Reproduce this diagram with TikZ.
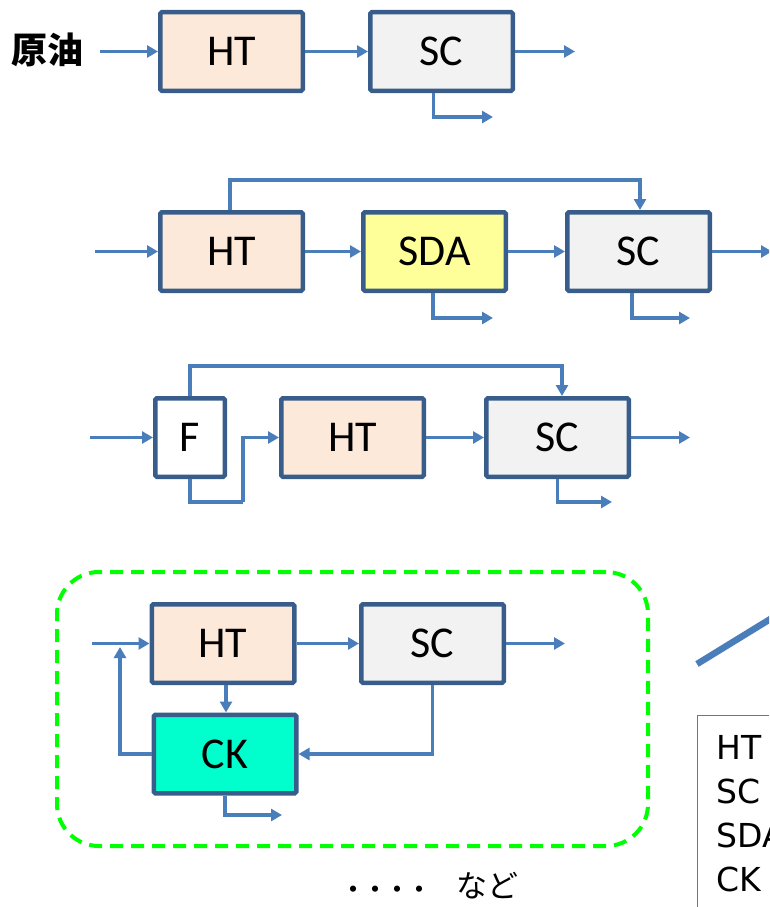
\documentclass[tikz,border=0pt]{standalone}
\usepackage{fontspec}
\setmainfont{Carlito}
\newfontfamily\jpfont{Noto Sans CJK JP}
\newfontfamily\legfont{DejaVu Sans}
\usetikzlibrary{arrows.meta,positioning}
\usepackage{xcolor}
\definecolor{boxline}{HTML}{385D8A}
\definecolor{flowblue}{HTML}{4A7EBB}
\definecolor{htfill}{HTML}{FDE9D9}
\definecolor{scfill}{HTML}{F2F2F2}
\definecolor{sdafill}{HTML}{FFFF99}
\definecolor{ckfill}{HTML}{00FFCC}
\definecolor{grpgreen}{HTML}{00FF00}

\tikzset{
  unit/.style={draw=boxline,line width=4.5pt,rounded corners=1.5pt,
    minimum width=142.5pt,minimum height=78.5pt,inner sep=0pt,
    font=\fontsize{44}{44}\selectfont},
  flow/.style={draw=flowblue,line width=3.2pt,-{Triangle[length=11pt,width=12pt]}},
  pipe/.style={draw=flowblue,line width=3.2pt},
}

\begin{document}
\begin{tikzpicture}[x=1pt,y=-1pt]
				\clip (0,0) rectangle (769,907);
				
				% Case 1
				\node[font=\jpfont\bfseries\fontsize{36}{36}\selectfont] (crude) at (47,50) {原油};
				\node[unit,fill=htfill] (ht1) at (231.5,51.5) {HT};
				\node[unit,fill=scfill] (sc1) at (441.5,51.5) {SC};
				\coordinate (in1) at (100,51.5);
				\coordinate (out1) at (575,51.5);
				\coordinate (bot1) at (493,117);
				\draw[flow] (in1) -- (ht1);
				\draw[flow] (ht1) -- (sc1);
				\draw[flow] (sc1) -- (out1);
				\draw[flow] ([xshift=-8pt]sc1.south) |- (bot1);
				
				% Case 2
				\node[unit,fill=htfill] (ht2) at (231.5,251.5) {HT};
				\node[unit,fill=sdafill] (sda2) at (434.5,251.5) {SDA};
				\node[unit,fill=scfill] (sc2) at (638.5,251.5) {SC};
				\coordinate (in2) at (95,251.5);
				\coordinate (out2) at (772,251.5);
				\coordinate (bot2a) at (493,318);
				\coordinate (bot2b) at (690,318);
				\draw[flow] (in2) -- (ht2);
				\draw[flow] (ht2) -- (sda2);
				\draw[flow] (sda2) -- (sc2);
				\draw[flow] (sc2) -- (out2);
				\draw[flow] ([xshift=-1.5pt]ht2.north) -- ++(0,-30) -| ([xshift=1.5pt]sc2.north);
				\draw[flow] ([xshift=-1.5pt]sda2.south) |- (bot2a);
				\draw[flow] ([xshift=-6.5pt]sc2.south) |- (bot2b);
				
				% Case 3
				\node[unit,fill=white,minimum width=69.5pt] (f3) at (190,437.5) {F};
				\node[unit,fill=htfill] (ht3) at (352.5,437.5) {HT};
				\node[unit,fill=scfill] (sc3) at (557.5,437.5) {SC};
				\coordinate (in3) at (90,437.5);
				\coordinate (out3) at (690,437.5);
				\coordinate (turn3) at (243,502);
				\coordinate (bot3) at (612,502);
				\draw[flow] (in3) -- (f3);
				\draw[pipe] (f3.south) |- (turn3);
				\draw[flow] (turn3) |- (ht3.west);
				\draw[flow] (ht3) -- (sc3);
				\draw[flow] (sc3) -- (out3);
				\draw[flow] (f3.north) -- ++(0,-30) -| ([xshift=4.5pt]sc3.north);
				\draw[flow] (sc3.south) |- (bot3);
				
				% Case 4
				\node[draw=grpgreen,line width=4pt,dash pattern=on 13pt off 8pt,rounded corners=42pt,
				  minimum width=591pt,minimum height=274pt] (grp) at (352.5,709) {};
				\node[unit,fill=htfill] (ht4) at (223,643.5) {HT};
				\node[unit,fill=scfill] (sc4) at (432.5,643.5) {SC};
				\node[unit,fill=ckfill] (ck4) at (225,754) {CK};
				\coordinate (in4) at (92,643.5);
				\coordinate (out4) at (565,643.5);
				\coordinate (ret4) at (120,647);
				\coordinate (bot4) at (282,815);
				\draw[flow] (in4) -- (ht4);
				\draw[flow] (ht4) -- (sc4);
				\draw[flow] (sc4) -- (out4);
				\draw[flow] ([xshift=3pt]ht4.south) -- ([xshift=1pt]ck4.north);
				\draw[flow] (sc4.south) |- (ck4.east);
				\draw[flow] (ck4.west) -| (ret4);
				\draw[flow] (ck4.south) |- (bot4);
				
				% etc.
				\node[anchor=west,inner sep=0pt,font=\jpfont] (etc) at (342,886)
				  {{\bfseries\fontsize{22}{22}\selectfont ・・・・}\hspace{26pt}{\fontsize{31}{31}\selectfont など}};
				
				% Legend (cut off at right)
				\coordinate (call1) at (697,664);
				\coordinate (call2) at (860,564);
				\draw[flowblue,line width=6.5pt] (call1) -- (call2);
				\node[draw=flowblue,line width=1pt,anchor=north west,inner xsep=19pt,inner ysep=20pt,
				  align=left,text width=200pt,
				  font=\legfont\fontsize{33}{44}\selectfont] (legend) at (697,715)
				  {HT\\SC\\SDA\\CK\\~};
				
			\end{tikzpicture}
\end{document}
